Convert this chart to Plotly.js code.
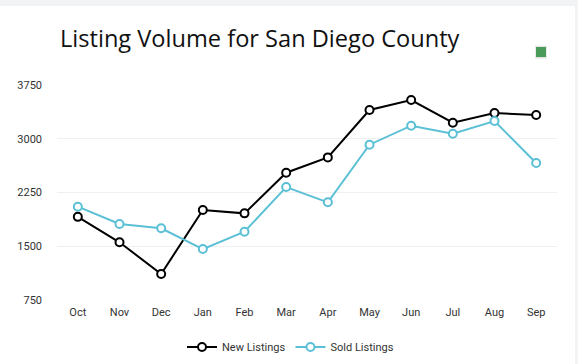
<!DOCTYPE html>
<html><head><meta charset="utf-8">
<script src="https://cdn.plot.ly/plotly-3.0.1.min.js"></script>
<style>
html,body{margin:0;padding:0;background:#f2f3f5;width:578px;height:364px;overflow:hidden}
#chart{position:absolute;left:0;top:6px;width:575px;height:358px;background:#fff}
</style></head>
<body><div id="chart"></div>
<script>
const months = ["Oct","Nov","Dec","Jan","Feb","Mar","Apr","May","Jun","Jul","Aug","Sep"];
const newListings = [1910,1555,1113,2006,1959,2526,2740,3401,3540,3224,3359,3331];
const soldListings = [2052,1810,1750,1461,1703,2326,2113,2917,3182,3070,3247,2661];
const yTicks = [750,1500,2250,3000,3750];

const traces = [
 {x:months,y:newListings,name:"New Listings",type:"scatter",mode:"lines+markers",
  line:{color:"#000000",width:2},
  marker:{symbol:"circle",size:8,color:"#ffffff",line:{color:"#000000",width:2}}},
 {x:months,y:soldListings,name:"Sold Listings",type:"scatter",mode:"lines+markers",
  line:{color:"#5bc0d6",width:2},
  marker:{symbol:"circle",size:8,color:"#ffffff",line:{color:"#5bc0d6",width:2}}}
];
const layout = {
 width:575,height:358,
 margin:{l:57,r:18,t:79,b:64,autoexpand:false},
 paper_bgcolor:"#ffffff",plot_bgcolor:"#ffffff",
 font:{family:"Roboto, sans-serif",size:11,color:"#333"},
 title:{text:"Listing Volume for San Diego County",
  font:{family:"Open Sans, sans-serif",size:23.6,color:"#111"},
  xref:"container",x:60/575,xanchor:"left",yref:"container",y:1-24/358,yanchor:"top"},
 xaxis:{type:"category",range:[-0.5,11.5],showgrid:false,zeroline:false,showline:false,
  ticks:"",ticklabelstandoff:4,tickfont:{size:11,color:"#333"},fixedrange:true,automargin:false},
 yaxis:{range:[750,3750],tickvals:yTicks,ticktext:yTicks.map(String),showgrid:true,
  gridcolor:"#f0f0f0",gridwidth:1,zeroline:false,showline:false,ticks:"",ticklabelstandoff:14,
  tickfont:{size:11,color:"#333"},automargin:false},
 showlegend:true,
 legend:{orientation:"h",x:0.467,xanchor:"center",yref:"container",y:1-(347-6)/358,yanchor:"middle",
  font:{size:11,color:"#333"},itemwidth:30,traceorder:"normal"},
 shapes:[
  {type:"rect",xref:"paper",yref:"paper",x0:0.956,x1:0.98,y0:1.122,y1:1.183,fillcolor:"rgba(0,0,0,0.08)",line:{width:0}},
  {type:"rect",xref:"paper",yref:"paper",x0:0.958,x1:0.978,y0:1.130,y1:1.177,fillcolor:"#4a9a5a",line:{width:0}}
 ]
};
Plotly.newPlot("chart",traces,layout,{displayModeBar:false,staticPlot:true});
</script></body></html>
